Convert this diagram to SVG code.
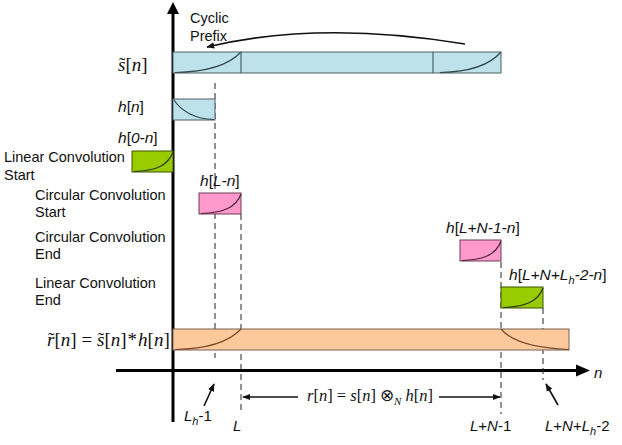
<svg xmlns="http://www.w3.org/2000/svg" width="622" height="445" viewBox="0 0 622 445">
<style>
.lbl{font-family:"Liberation Sans",Arial,sans-serif;font-size:14.5px;fill:#111}
.hl{font-family:"Liberation Sans",Arial,sans-serif;font-size:15.5px;font-style:italic;fill:#111}
.ax{font-family:"Liberation Sans",Arial,sans-serif;font-size:15px;font-style:italic;fill:#111}
.m{font-family:"Liberation Serif","Times New Roman",serif;fill:#111}
.i{font-style:italic}
.blue{fill:#bde2e9;stroke:#4d6166;stroke-width:1}
.green{fill:#99cc00;stroke:#3d5200;stroke-width:1}
.pink{fill:#ff99cc;stroke:#6b3d55;stroke-width:1}
.peach{fill:#fbc99c;stroke:#7a6050;stroke-width:1}
.cb{fill:none;stroke:#34474d;stroke-width:1.2}
.cg{fill:none;stroke:#2c3a06;stroke-width:1.2}
.cp{fill:none;stroke:#4a2038;stroke-width:1.2}
.co{fill:none;stroke:#7a4a2a;stroke-width:1.2}
.dash{fill:none;stroke:#222;stroke-width:1;stroke-dasharray:6,4}
.arr{fill:none;stroke:#111;stroke-width:1.6}
.axis{fill:none;stroke:#000;stroke-width:3}
</style>
<defs>
<marker id="ahs" viewBox="0 0 10 10" refX="9" refY="5" markerWidth="8" markerHeight="8" orient="auto" markerUnits="userSpaceOnUse">
<path d="M0,1 L10,5 L0,9 z" fill="#111"/>
</marker>
</defs>

<g id="axes">
<line class="axis" x1="173" y1="422" x2="173" y2="12"/>
<path d="M167,14 L173,2 L179,14 z" fill="#000"/>
<line class="axis" x1="116" y1="370.5" x2="578" y2="370.5"/>
<path d="M576,364.5 L590,370.5 L576,376.5 z" fill="#000"/>
<text class="ax" x="594" y="378">n</text>
</g>

<g id="connectors">
<line class="dash" x1="215" y1="83" x2="215" y2="358"/>
<line class="dash" x1="241" y1="214" x2="241" y2="410"/>
<line class="dash" x1="501" y1="262" x2="501" y2="414"/>
<line class="dash" x1="543" y1="308" x2="543" y2="380"/>
<path class="arr" d="M465,44 Q320,20 207,47" marker-end="url(#ahs)"/>
<line class="arr" x1="204" y1="406" x2="214" y2="384" marker-end="url(#ahs)"/>
<line class="arr" x1="558" y1="405" x2="546" y2="384" marker-end="url(#ahs)"/>
<line class="arr" x1="298" y1="397" x2="243" y2="397" marker-end="url(#ahs)"/>
<line class="arr" x1="439" y1="397" x2="500" y2="397" marker-end="url(#ahs)"/>
</g>

<g id="cyclic-prefix">
<text class="lbl" x="190" y="23">Cyclic</text>
<text class="lbl" x="190" y="41">Prefix</text>
</g>

<g id="s-tilde">
<rect class="blue" x="173" y="52" width="328" height="21"/>
<line x1="241" y1="52" x2="241" y2="73" stroke="#34474d" stroke-width="1"/>
<line x1="433" y1="52" x2="433" y2="73" stroke="#34474d" stroke-width="1"/>
<path class="cb" d="M175,72.5 C205,72 228,66 241,52"/>
<path class="cb" d="M440,72.5 C467,72 489,66 501,52"/>
<text class="m" font-size="19" x="118" y="71"><tspan class="i">s</tspan><tspan dx="-6.5">˜</tspan><tspan dx="0.3">[</tspan><tspan class="i">n</tspan>]</text>
</g>

<g id="h-n">
<rect class="blue" x="173" y="99" width="42" height="21"/>
<path class="cb" d="M174,100 C181,111 195,119 214,119.5"/>
<text class="hl" x="118" y="112">h<tspan font-style="normal">[</tspan>n<tspan font-style="normal">]</tspan></text>
</g>

<g id="h-0-n">
<rect class="green" x="132" y="151" width="41" height="21"/>
<path class="cg" d="M134,171.5 C155,171 168,166 173,152"/>
<text class="hl" x="118" y="143">h<tspan font-style="normal">[</tspan>0-n<tspan font-style="normal">]</tspan></text>
<text class="lbl" x="4" y="162">Linear Convolution</text>
<text class="lbl" x="4" y="180">Start</text>
</g>

<g id="h-L-n">
<rect class="pink" x="199" y="193" width="42" height="21"/>
<path class="cp" d="M201,213.5 C222,213 236,208 241,194"/>
<text class="hl" x="200" y="186">h<tspan font-style="normal">[</tspan>L-n<tspan font-style="normal">]</tspan></text>
<text class="lbl" x="35" y="200">Circular Convolution</text>
<text class="lbl" x="35" y="217">Start</text>
</g>

<g id="h-LN1-n">
<rect class="pink" x="460" y="240" width="41" height="21"/>
<path class="cp" d="M462,260.5 C483,260 496,255 501,241"/>
<text class="hl" x="446" y="233">h<tspan font-style="normal">[</tspan>L+N-1-n<tspan font-style="normal">]</tspan></text>
<text class="lbl" x="35" y="242">Circular Convolution</text>
<text class="lbl" x="35" y="259">End</text>
</g>

<g id="h-LNLh2-n">
<rect class="green" x="501" y="287" width="42" height="21"/>
<path class="cg" d="M503,307.5 C524,307 538,302 543,288"/>
<text class="hl" x="509" y="280">h<tspan font-style="normal">[</tspan>L+N+L<tspan font-size="11" dy="4">h</tspan><tspan dy="-4">-2-n</tspan><tspan font-style="normal">]</tspan></text>
<text class="lbl" x="35" y="288">Linear Convolution</text>
<text class="lbl" x="35" y="305">End</text>
</g>

<g id="r-tilde">
<rect class="peach" x="173" y="329" width="396" height="21"/>
<path class="co" d="M175,349.5 C205,349 228,343 241,329"/>
<path class="co" d="M501,329 C510,340 530,348 569,349.5"/>
<text class="m" font-size="19" x="47" y="346"><tspan class="i">r</tspan><tspan dx="-6.5">˜</tspan><tspan dx="0.3">[</tspan><tspan class="i">n</tspan>] = <tspan class="i">s</tspan><tspan dx="-6.5">˜</tspan><tspan dx="0.3">[</tspan><tspan class="i">n</tspan>]<tspan dx="1">*</tspan><tspan class="i" dx="1">h</tspan>[<tspan class="i">n</tspan>]</text>
</g>

<g id="ticks">
<text class="ax" x="184" y="421">L<tspan font-size="11" dy="4">h</tspan><tspan dy="-4" font-style="normal">-1</tspan></text>
<text class="ax" x="233" y="431">L</text>
<text class="ax" x="470" y="431">L<tspan font-style="normal">+</tspan>N<tspan font-style="normal">-1</tspan></text>
<text class="ax" x="545" y="431">L<tspan font-style="normal">+</tspan>N<tspan font-style="normal">+</tspan>L<tspan font-size="11" dy="4">h</tspan><tspan dy="-4" font-style="normal">-2</tspan></text>
</g>

<g id="r-circ">
<text class="m" font-size="16.5" x="307" y="401"><tspan class="i">r</tspan>[<tspan class="i">n</tspan>] = <tspan class="i">s</tspan>[<tspan class="i">n</tspan>] ⊗<tspan class="i" font-size="11" dy="4">N</tspan><tspan dy="-4"> </tspan><tspan class="i">h</tspan>[<tspan class="i">n</tspan>]</text>
</g>
</svg>
